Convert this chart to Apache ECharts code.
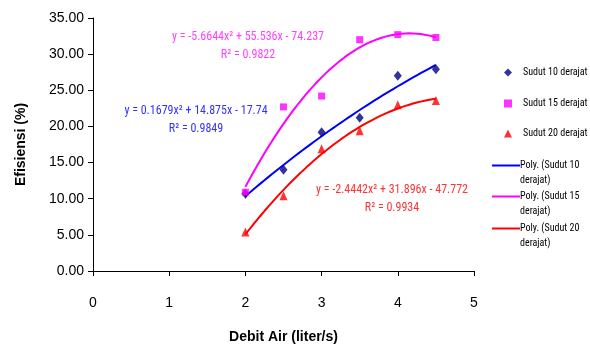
<!DOCTYPE html>
<html><head><meta charset="utf-8">
<script src="https://cdn.jsdelivr.net/npm/echarts@6/dist/echarts.min.js"></script>
<style>html,body{margin:0;padding:0;background:#fff}#c{width:590px;height:349px}</style>
</head><body><div id="c"></div>
<script>
const debit = [2, 2.5, 3, 3.5, 4, 4.5];
const sudut10 = [10.7, 14.0, 19.2, 21.2, 27.0, 27.9];
const sudut15 = [10.9, 22.7, 24.2, 32.0, 32.7, 32.3];
const sudut20 = [5.4, 10.4, 16.9, 19.4, 23.0, 23.6];
const yTicks = ['0.00','5.00','10.00','15.00','20.00','25.00','30.00','35.00'];
const eq10 = ['y = 0.1679x² + 14.875x - 17.74', 'R² = 0.9849'];
const eq15 = ['y = -5.6644x² + 55.536x - 74.237', 'R² = 0.9822'];
const eq20 = ['y = -2.4442x² + 31.896x - 47.772', 'R² = 0.9934'];

// least-squares quadratic trendline of the plotted data
function polyFit(xs, ys) {
  let n = xs.length, s = [0,0,0,0,0], t = [0,0,0];
  for (let i = 0; i < n; i++) {
    let p = 1;
    for (let k = 0; k < 5; k++) { s[k] += p; if (k < 3) t[k] += p * ys[i]; p *= xs[i]; }
  }
  const A = [[s[0],s[1],s[2],t[0]],[s[1],s[2],s[3],t[1]],[s[2],s[3],s[4],t[2]]];
  for (let i = 0; i < 3; i++) {
    for (let j = i + 1; j < 3; j++) {
      const f = A[j][i] / A[i][i];
      for (let k = i; k < 4; k++) A[j][k] -= f * A[i][k];
    }
  }
  const c = [0,0,0];
  for (let i = 2; i >= 0; i--) {
    let v = A[i][3];
    for (let k = i + 1; k < 3; k++) v -= A[i][k] * c[k];
    c[i] = v / A[i][i];
  }
  const out = [];
  const x0 = xs[0], x1 = xs[xs.length - 1];
  for (let i = 0; i <= 50; i++) {
    const x = x0 + (x1 - x0) * i / 50;
    out.push([x, c[0] + c[1] * x + c[2] * x * x]);
  }
  return out;
}
const pts = (ys) => debit.map((x, i) => [x, ys[i]]);

const FONT = 'Liberation Sans, Arial, sans-serif';
const NARROW = '"Roboto Condensed", "Liberation Sans", Arial, sans-serif';
const C10 = '#000080', C15 = '#FF00FF', C20 = '#FF0000', L10 = '#0000FF';

const names = ['Sudut 10 derajat','Sudut 15 derajat','Sudut 20 derajat',
  'Poly. (Sudut 10\nderajat)','Poly. (Sudut 15\nderajat)','Poly. (Sudut 20\nderajat)'];
const legendTops = [65, 96, 126, 143, 174, 206];
const legends = names.map((n, i) => {
  const isLine = i >= 3;
  return {
    data: [n], orient: 'vertical', left: isLine ? 492 : 504, top: legendTops[i],
    itemWidth: isLine ? 28 : 8, itemHeight: isLine ? 2 : 8, itemGap: 0, padding: 0,
    icon: isLine ? 'rect' : undefined,
    selectedMode: false,
    formatter: isLine ? (nm) => ' \n' + nm : undefined,
    textStyle: { fontFamily: NARROW, fontSize: 10, color: '#000', lineHeight: 15,
      padding: isLine ? [0,0,0,-5] : [0,0,0,6] }
  };
});

function eqGraphic(lines, x, y, color) {
  return lines.map((s, i) => ({
    type: 'text', z: 10,
    style: { text: s, x: x, y: y + i * 18, fill: color, font: '12px ' + NARROW,
      textAlign: 'center', textVerticalAlign: 'middle' }
  }));
}

const chart = echarts.init(document.getElementById('c'), null, { renderer: 'canvas' });
chart.setOption({
  animation: false,
  backgroundColor: '#fff',
  grid: { left: 93, right: 116, top: 18, bottom: 72, containLabel: false },
  legend: legends,
  xAxis: {
    type: 'value', min: 0, max: 5, interval: 1,
    name: 'Debit Air (liter/s)', nameLocation: 'middle', nameGap: 59,
    nameTextStyle: { fontFamily: FONT, fontSize: 14, fontWeight: 'bold', color: '#000' },
    axisLine: { show: true, lineStyle: { color: '#000', width: 1 } },
    axisTick: { show: true, inside: false, length: 5, lineStyle: { color: '#000' } },
    axisLabel: { fontFamily: FONT, fontSize: 14, color: '#000', margin: 25 },
    splitLine: { show: false }
  },
  yAxis: {
    type: 'value', min: 0, max: 35, interval: 5,
    name: 'Efisiensi (%)', nameLocation: 'middle', nameGap: 65, nameRotate: 90,
    nameTextStyle: { fontFamily: FONT, fontSize: 14, fontWeight: 'bold', color: '#000' },
    axisLine: { show: true, lineStyle: { color: '#000', width: 1 } },
    axisTick: { show: true, inside: false, length: 5, lineStyle: { color: '#000' } },
    axisLabel: { fontFamily: FONT, fontSize: 14, color: '#000', margin: 9,
      formatter: (v) => yTicks[Math.round(v / 5)] },
    splitLine: { show: false }
  },
  series: [
    { name: names[3], type: 'line', data: polyFit(debit, sudut10), showSymbol: false, symbol: 'none',
      lineStyle: { color: L10, width: 2 }, itemStyle: { color: L10 }, z: 2 },
    { name: names[4], type: 'line', data: polyFit(debit, sudut15), showSymbol: false, symbol: 'none',
      lineStyle: { color: C15, width: 2 }, itemStyle: { color: C15 }, z: 2 },
    { name: names[5], type: 'line', data: polyFit(debit, sudut20), showSymbol: false, symbol: 'none',
      lineStyle: { color: C20, width: 2 }, itemStyle: { color: C20 }, z: 2 },
    { name: names[0], type: 'scatter', data: pts(sudut10), symbol: 'diamond', symbolSize: [8, 10],
      itemStyle: { color: C10 }, z: 3 },
    { name: names[1], type: 'scatter', data: pts(sudut15), symbol: 'rect', symbolSize: 7,
      itemStyle: { color: C15 }, z: 4 },
    { name: names[2], type: 'scatter', data: pts(sudut20), symbol: 'triangle', symbolSize: [8, 9],
      itemStyle: { color: C20 }, z: 3 }
  ],
  graphic: [].concat(
    eqGraphic(eq15, 248, 37, '#FF40FF'),
    eqGraphic(eq10, 196, 111, '#3333FF'),
    eqGraphic(eq20, 392, 190, '#FF3333')
  )
});
</script></body></html>
